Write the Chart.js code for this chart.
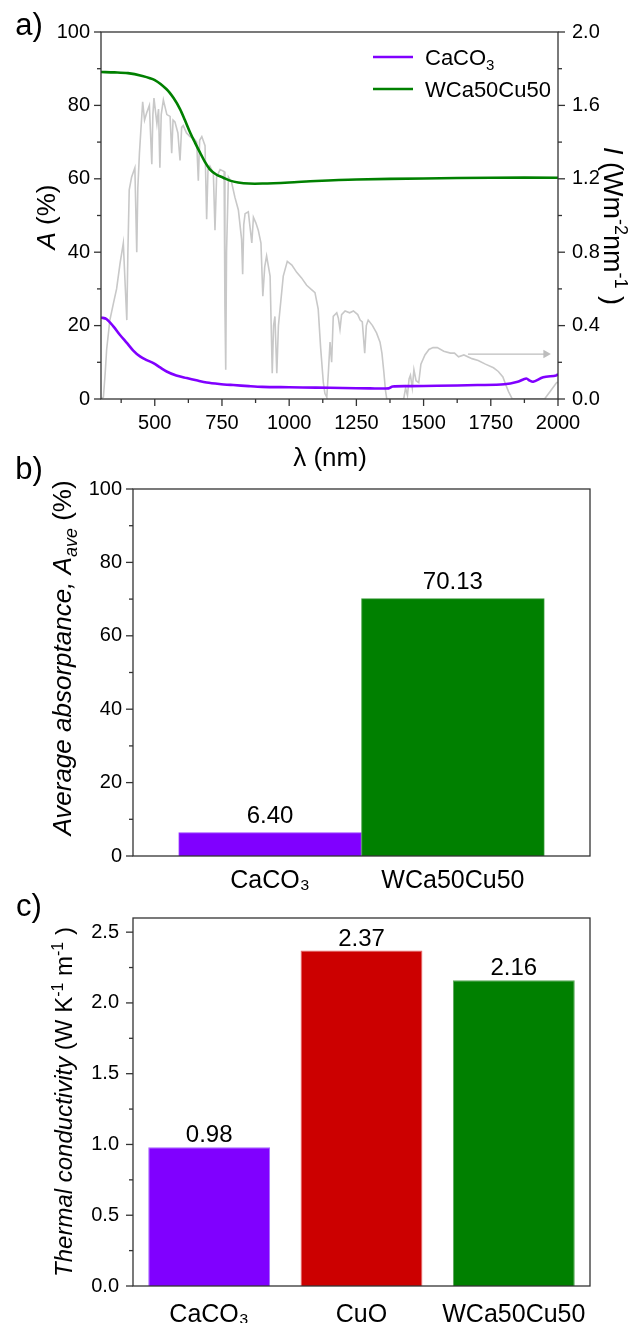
<!DOCTYPE html>
<html>
<head>
<meta charset="utf-8">
<script src="https://cdn.jsdelivr.net/npm/chart.js@4.4.0/dist/chart.umd.min.js"></script>
<style>
html, body { margin: 0; padding: 0; background: #fff; }
#wrap { position: relative; width: 635px; height: 1323px; overflow: hidden; }
canvas { position: absolute; left: 0; }
</style>
</head>
<body>
<div id="wrap">
  <canvas id="chartA" width="635" height="480" style="top:0px"></canvas>
  <canvas id="chartB" width="635" height="450" style="top:450px"></canvas>
  <canvas id="chartC" width="635" height="443" style="top:880px"></canvas>
</div>
<script>
// ---- panel a: absorptance spectra + solar irradiance ----
const caco3Wl = [300, 320, 346, 370, 396, 420, 445, 470, 495, 520, 544, 580, 619, 655, 693, 740, 792, 850, 900, 1000, 1100, 1200, 1300, 1370, 1385, 1450, 1550, 1700, 1800, 1850, 1882, 1895, 1907, 1945, 1993, 2000];
const caco3A = [22.2, 21.8, 19.8, 17.5, 15.3, 13.2, 11.6, 10.6, 9.8, 8.6, 7.5, 6.4, 5.7, 5.1, 4.5, 4.1, 3.8, 3.5, 3.3, 3.2, 3.1, 3.0, 2.9, 2.9, 3.4, 3.5, 3.6, 3.8, 4.0, 4.7, 5.6, 5.0, 4.7, 5.9, 6.4, 6.8];

const wcaWl = [300, 350, 400, 450, 500, 544, 570, 594, 612, 631, 650, 668, 686, 705, 730, 755, 780, 810, 850, 900, 1000, 1100, 1250, 1500, 1750, 2000];
const wcaA = [89.1, 89.0, 88.8, 88.1, 86.9, 84.4, 82.0, 79.0, 76.0, 72.7, 69.8, 67.2, 64.7, 62.6, 61.1, 60.3, 59.5, 59.0, 58.7, 58.7, 59.0, 59.4, 59.8, 60.1, 60.3, 60.3];

const solarWl = [300, 309, 316, 321, 333, 346, 358, 371, 383, 390, 396, 400, 405, 414, 426, 433, 437, 443, 455, 462, 470, 480, 489, 493, 497, 508, 514, 519, 524, 532, 545, 557, 563, 568, 575, 586, 594, 600, 606, 618, 631, 645, 656, 662, 667, 675, 687, 693, 698, 705, 718, 724, 730, 743, 758, 761, 764, 767, 774, 786, 798, 811, 823, 827, 831, 836, 848, 861, 867, 876, 885, 895, 902, 909, 916, 929, 937, 942, 947, 954, 960, 966, 978, 993, 1010, 1028, 1046, 1065, 1080, 1096, 1108, 1117, 1127, 1133, 1140, 1146, 1152, 1158, 1164, 1177, 1183, 1189, 1195, 1208, 1225, 1239, 1255, 1264, 1272, 1281, 1287, 1294, 1310, 1325, 1338, 1345, 1352, 1358, 1363, 1426, 1433, 1440, 1446, 1451, 1458, 1464, 1472, 1482, 1490, 1505, 1520, 1535, 1551, 1575, 1600, 1615, 1630, 1650, 1680, 1703, 1730, 1760, 1778, 1795, 1805, 1816, 1830, 1950, 1970, 1985, 1995, 2000];
const solarI = [0, 0.01, 0.15, 0.27, 0.43, 0.52, 0.60, 0.74, 0.85, 0.62, 0.43, 0.80, 1.14, 1.21, 1.26, 0.80, 1.15, 1.34, 1.62, 1.52, 1.56, 1.60, 1.28, 1.55, 1.64, 1.50, 1.58, 1.26, 1.55, 1.63, 1.55, 1.54, 1.34, 1.52, 1.51, 1.45, 1.30, 1.48, 1.49, 1.45, 1.43, 1.42, 1.40, 1.19, 1.41, 1.43, 1.38, 0.98, 1.25, 1.27, 1.23, 0.92, 1.21, 1.25, 1.24, 0.50, 0.16, 0.80, 1.21, 1.18, 1.10, 1.03, 0.87, 0.68, 0.95, 1.01, 1.02, 0.85, 0.99, 0.96, 0.92, 0.85, 0.56, 0.72, 0.78, 0.67, 0.14, 0.40, 0.45, 0.14, 0.40, 0.49, 0.67, 0.75, 0.73, 0.69, 0.66, 0.62, 0.60, 0.58, 0.49, 0.28, 0.09, 0.03, 0.01, 0.15, 0.31, 0.20, 0.45, 0.47, 0.44, 0.38, 0.46, 0.48, 0.47, 0.48, 0.46, 0.43, 0.42, 0.25, 0.40, 0.43, 0.40, 0.36, 0.31, 0.25, 0.15, 0.05, 0, 0, 0.06, 0.02, 0.11, 0.13, 0.06, 0.16, 0.10, 0.09, 0.19, 0.24, 0.27, 0.28, 0.28, 0.26, 0.25, 0.25, 0.23, 0.24, 0.22, 0.21, 0.19, 0.17, 0.15, 0.12, 0.08, 0.04, 0, 0, 0.04, 0.07, 0.09, 0.09];

// arrow pointing at the right-hand axis
const arrowWl = [1665, 1955];
const arrowI = [0.245, 0.245];

const aTicksX = [500, 750, 1000, 1250, 1500, 1750, 2000];
const aTicksA = [0, 20, 40, 60, 80, 100];
const aTicksI = [0, 0.4, 0.8, 1.2, 1.6, 2.0];

// ---- panel b: average absorptance ----
const bNames = ["CaCO\u2083", "WCa50Cu50"];
const bValues = [6.40, 70.13];
const bTicksY = [0, 20, 40, 60, 80, 100];

// ---- panel c: thermal conductivity ----
const cNames = ["CaCO\u2083", "CuO", "WCa50Cu50"];
const cValues = [0.98, 2.37, 2.16];
const cTicksY = [0, 0.5, 1.0, 1.5, 2.0, 2.5];

const PURPLE = "#8000ff";
const GREEN = "#008000";
const RED = "#cc0000";
const GRAY = "#c8c8c8";
const FONT = '"Liberation Sans", Arial, sans-serif';

Chart.defaults.font.family = FONT;
Chart.defaults.color = "#000";

function pts(xs, ys) {
    return xs.map((x, i) => ({ x: x, y: ys[i] }));
}

function drawRich(ctx, parts, x, y, rot, size, align) {
    ctx.save();
    ctx.translate(x, y);
    ctx.rotate(rot);
    const fontFor = (p) => `${p.i ? "italic " : ""}${p.sub || p.sup ? Math.round(size * 0.68) : size}px ${FONT}`;
    let total = 0;
    parts.forEach((p) => {
        ctx.font = fontFor(p);
        p.w = ctx.measureText(p.t).width;
        total += p.w;
    });
    let cx = align === "left" ? 0 : -total / 2;
    ctx.textAlign = "left";
    ctx.textBaseline = "alphabetic";
    ctx.fillStyle = "#000";
    parts.forEach((p) => {
        ctx.font = fontFor(p);
        const dy = p.sub ? size * 0.22 : p.sup ? -size * 0.38 : 0;
        ctx.fillText(p.t, cx, size * 0.36 + dy);
        cx += p.w;
    });
    ctx.restore();
}

// frame, origin-style ticks, titles, legend and value labels
const decorPlugin = {
    id: "decor",
    afterDraw(chart, args, opts) {
        const ctx = chart.ctx;
        const a = chart.chartArea;
        ctx.save();
        ctx.strokeStyle = "#333";
        ctx.lineWidth = 1.3;
        ctx.strokeRect(a.left, a.top, a.right - a.left, a.bottom - a.top);

        (opts.ticks || []).forEach((t) => {
            const s = chart.scales[t.id];
            const majors = s.ticks.map((k) => k.value);
            for (let n = Math.ceil(s.min / t.minor - 1e-9); n * t.minor <= s.max + 1e-9; n++) {
                const v = n * t.minor;
                const major = majors.some((m) => Math.abs(m - v) < 1e-6);
                const len = major ? 7 : 4;
                const p = s.getPixelForValue(v);
                ctx.beginPath();
                if (s.position === "left") {
                    ctx.moveTo(a.left, p);
                    ctx.lineTo(a.left - len, p);
                } else if (s.position === "right") {
                    ctx.moveTo(a.right, p);
                    ctx.lineTo(a.right + len, p);
                } else {
                    ctx.moveTo(p, a.bottom);
                    ctx.lineTo(p, a.bottom + len);
                }
                ctx.stroke();
            }
        });

        (opts.texts || []).forEach((t) => drawRich(ctx, t.parts, t.x, t.y, t.rot || 0, t.size, t.align));

        if (opts.legend) {
            const L = opts.legend;
            L.items.forEach((item, k) => {
                const ds = chart.data.datasets[item.ds];
                ctx.strokeStyle = ds.borderColor;
                ctx.lineWidth = 2.5;
                ctx.beginPath();
                ctx.moveTo(L.x1, L.ys[k]);
                ctx.lineTo(L.x2, L.ys[k]);
                ctx.stroke();
                drawRich(ctx, item.parts, L.tx, L.ys[k], 0, L.size, "left");
            });
        }

        if (opts.values) {
            const meta = chart.getDatasetMeta(0);
            ctx.font = `${opts.values.size}px ${FONT}`;
            ctx.fillStyle = "#000";
            ctx.textAlign = "center";
            ctx.textBaseline = "alphabetic";
            meta.data.forEach((el, i) => {
                const v = chart.data.datasets[0].data[i];
                const val = typeof v === "object" ? v.y : v;
                ctx.fillText(val.toFixed(2), el.x, el.y - opts.values.gap);
            });
        }
        ctx.restore();
    },
};

function fixWidth(w) {
    return (scale) => { scale.width = w; };
}
function fixHeight(h) {
    return (scale) => { scale.height = h; };
}
function setTicks(list) {
    return (scale) => { scale.ticks = list.map((v) => ({ value: v })); };
}
const noGrid = { display: false, drawTicks: false };
const noBorder = { display: false };

// ---------------- chart a ----------------
new Chart(document.getElementById("chartA"), {
    type: "line",
    data: {
        datasets: [
            {
                label: "arrow",
                data: pts(arrowWl, arrowI),
                yAxisID: "yI",
                borderColor: "#bdbdbd",
                borderWidth: 1.2,
                pointRadius: [0, 5],
                pointStyle: "triangle",
                rotation: 90,
                pointBackgroundColor: "#bdbdbd",
                pointBorderWidth: 0,
                order: 4,
            },
            {
                label: "CaCO\u2083",
                data: pts(caco3Wl, caco3A),
                yAxisID: "yA",
                borderColor: PURPLE,
                borderWidth: 2.6,
                pointRadius: 0,
                tension: 0.3,
                order: 1,
            },
            {
                label: "WCa50Cu50",
                data: pts(wcaWl, wcaA),
                yAxisID: "yA",
                borderColor: GREEN,
                borderWidth: 2.6,
                pointRadius: 0,
                tension: 0.3,
                order: 1,
            },
            {
                label: "AM1.5",
                data: pts(solarWl, solarI),
                yAxisID: "yI",
                borderColor: GRAY,
                borderWidth: 1.6,
                pointRadius: 0,
                tension: 0,
                order: 3,
            },
        ],
    },
    options: {
        responsive: false,
        animation: false,
        events: [],
        layout: { padding: { top: 32, left: 0, right: 0, bottom: 0 }, autoPadding: false },
        plugins: {
            legend: { display: false },
            tooltip: { enabled: false },
            decor: {
                ticks: [
                    { id: "x", minor: 125 },
                    { id: "yA", minor: 10 },
                    { id: "yI", minor: 0.2 },
                ],
                texts: [
                    { parts: [{ t: "a)" }], x: 29, y: 24, size: 31 },
                    { parts: [{ t: "A", i: 1 }, { t: " (%)" }], x: 46, y: 217, rot: -Math.PI / 2, size: 26 },
                    { parts: [{ t: "\u03bb (nm)" }], x: 330, y: 457, size: 26 },
                    {
                        parts: [{ t: "I", i: 1 }, { t: " (Wm" }, { t: "-2", sup: 1 }, { t: "nm" }, { t: "-1", sup: 1 }, { t: " )" }],
                        x: 614, y: 226, rot: Math.PI / 2, size: 27,
                    },
                ],
                legend: {
                    x1: 373, x2: 413, tx: 425, ys: [57, 89], size: 22,
                    items: [
                        { ds: 1, parts: [{ t: "CaCO" }, { t: "3", sub: 1 }] },
                        { ds: 2, parts: [{ t: "WCa50Cu50" }] },
                    ],
                },
            },
        },
        scales: {
            x: {
                type: "linear",
                min: 300,
                max: 2000,
                afterBuildTicks: setTicks(aTicksX),
                afterFit: fixHeight(81),
                grid: noGrid,
                border: noBorder,
                ticks: { padding: 12, font: { size: 20 }, maxRotation: 0, autoSkip: false, callback: (v) => String(v) },
            },
            yA: {
                type: "linear",
                position: "left",
                min: 0,
                max: 100,
                afterBuildTicks: setTicks(aTicksA),
                afterFit: fixWidth(101),
                grid: noGrid,
                border: noBorder,
                ticks: { padding: 11, font: { size: 20 }, callback: (v) => String(v) },
            },
            yI: {
                type: "linear",
                position: "right",
                min: 0,
                max: 2.0,
                afterBuildTicks: setTicks(aTicksI),
                afterFit: fixWidth(77),
                grid: noGrid,
                border: noBorder,
                ticks: { padding: 14, font: { size: 20 }, callback: (v) => v.toFixed(1) },
            },
        },
    },
    plugins: [decorPlugin],
});

// ---------------- chart b ----------------
new Chart(document.getElementById("chartB"), {
    type: "bar",
    data: {
        datasets: [
            {
                data: bValues.map((v, i) => ({ x: i + 1, y: v })),
                backgroundColor: [PURPLE, GREEN],
                borderColor: ["#9a40ff", "#3a9a3a"],
                borderWidth: 1,
                barPercentage: 1,
                categoryPercentage: 1,
            },
        ],
    },
    options: {
        responsive: false,
        animation: false,
        events: [],
        layout: { padding: { top: 39, left: 0, right: 45, bottom: 0 }, autoPadding: false },
        plugins: {
            legend: { display: false },
            tooltip: { enabled: false },
            decor: {
                ticks: [{ id: "y", minor: 10 }],
                texts: [
                    { parts: [{ t: "b)" }], x: 29, y: 18, size: 31 },
                    {
                        parts: [{ t: "Average absorptance, A", i: 1 }, { t: "ave", i: 1, sub: 1 }, { t: " (%)" }],
                        x: 62, y: 208, rot: -Math.PI / 2, size: 26,
                    },
                ],
                values: { size: 24, gap: 10 },
            },
        },
        scales: {
            x: {
                type: "linear",
                min: 0.25,
                max: 2.75,
                offset: false,
                afterBuildTicks: setTicks([1, 2]),
                afterFit: fixHeight(44),
                grid: noGrid,
                border: noBorder,
                ticks: { padding: 10, font: { size: 25 }, maxRotation: 0, autoSkip: false, callback: (v) => bNames[v - 1] },
            },
            y: {
                min: 0,
                max: 100,
                afterBuildTicks: setTicks(bTicksY),
                afterFit: fixWidth(133),
                grid: noGrid,
                border: noBorder,
                ticks: { padding: 11, font: { size: 20 }, callback: (v) => String(v) },
            },
        },
    },
    plugins: [decorPlugin],
});

// ---------------- chart c ----------------
new Chart(document.getElementById("chartC"), {
    type: "bar",
    data: {
        labels: cNames,
        datasets: [
            {
                data: cValues,
                backgroundColor: [PURPLE, RED, GREEN],
                borderColor: ["#a566ff", "#e86a6a", "#5aa85a"],
                borderWidth: 1,
                barPercentage: 1,
                categoryPercentage: 0.8,
            },
        ],
    },
    options: {
        responsive: false,
        animation: false,
        events: [],
        layout: { padding: { top: 38, left: 0, right: 45, bottom: 0 }, autoPadding: false },
        plugins: {
            legend: { display: false },
            tooltip: { enabled: false },
            decor: {
                ticks: [{ id: "y", minor: 0.25 }],
                texts: [
                    { parts: [{ t: "c)" }], x: 29, y: 25, size: 31 },
                    {
                        parts: [{ t: "Thermal conductivity", i: 1 }, { t: " (W K" }, { t: "-1", sup: 1 }, { t: " m" }, { t: "-1", sup: 1 }, { t: " )" }],
                        x: 63, y: 222, rot: -Math.PI / 2, size: 24,
                    },
                ],
                values: { size: 24, gap: 5 },
            },
        },
        scales: {
            x: {
                afterFit: fixHeight(37),
                grid: { display: false, drawTicks: false, offset: true },
                border: noBorder,
                ticks: { padding: 14, font: { size: 25 }, maxRotation: 0, autoSkip: false },
            },
            y: {
                min: 0,
                max: 2.6,
                afterBuildTicks: setTicks(cTicksY),
                afterFit: fixWidth(133),
                grid: noGrid,
                border: noBorder,
                ticks: { padding: 14, font: { size: 20 }, callback: (v) => v.toFixed(1) },
            },
        },
    },
    plugins: [decorPlugin],
});
</script>
</body>
</html>
